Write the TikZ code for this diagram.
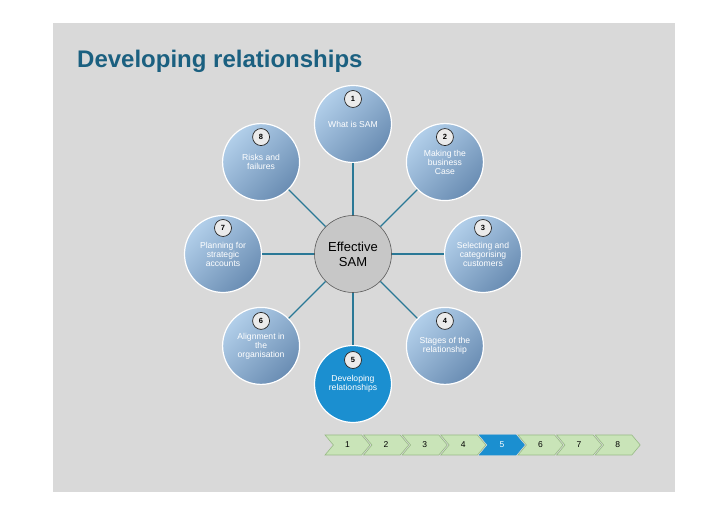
\documentclass[tikz,border=0pt]{standalone}
\usepackage{fontspec}
\setmainfont{Liberation Sans}
\usetikzlibrary{calc,positioning,shapes.symbols}

\definecolor{panelgray}{HTML}{D9D9D9}
\definecolor{titleteal}{HTML}{1B6080}
\definecolor{linkteal}{HTML}{2A7896}
\definecolor{topiclight}{HTML}{B2CFEA}
\definecolor{topicdark}{HTML}{6A8DB3}
\definecolor{activeblue}{HTML}{1B8FD0}
\definecolor{stepgreen}{HTML}{C9E4B8}
\definecolor{stepedge}{HTML}{98BA86}

\tikzset{
  bubble/.style={circle, minimum size=77pt, inner sep=0pt, draw=white, line width=1.2pt,
    text=white, align=center, font=\fontsize{8.6}{9}\selectfont},
  topic/.style={bubble, shading=axis, top color=topiclight, bottom color=topicdark, shading angle=45},
  activetopic/.style={bubble, fill=activeblue},
  badge/.style={circle, draw=black!85, fill=black!8, minimum size=17pt, inner sep=0pt,
    line width=0.7pt, font=\fontsize{7.5}{7.5}\selectfont\bfseries},
  hub/.style={circle, minimum size=77pt, inner sep=0pt, draw=black!65, fill=black!22,
    line width=0.6pt, align=center, font=\fontsize{13}{15}\selectfont},
  link/.style={draw=linkteal, line width=1.2pt},
  stepbox/.style={signal, signal to=east, signal from=west, signal pointer angle=100,
    minimum width=45pt, minimum height=20pt, inner sep=0pt, fill=stepgreen, draw=stepedge,
    line width=0.6pt, font=\fontsize{8.5}{8.5}\selectfont},
  activestep/.style={stepbox, fill=activeblue, draw=activeblue, text=white}
}

\begin{document}
\begin{tikzpicture}[x=1pt,y=1pt]
\useasboundingbox (0,0) rectangle (728,516);

\fill[white] (0,0) rectangle (728,516);

\fill[panelgray] (52.5,24) rectangle (675,493);

\node[anchor=base west, inner sep=0pt, text=titleteal, font=\fontsize{24}{24}\selectfont\bfseries] (title) at (77,448) {Developing relationships};

\node[hub] (sam) at (353,262) {Effective\\SAM};

\node[topic] (t1) at ($(sam)+(90:130)$) {What is SAM};
\node[topic] (t2) at ($(sam)+(45:130)$) {Making the\\business\\Case};
\node[topic] (t3) at ($(sam)+(0:130)$) {Selecting and\\categorising\\customers};
\node[topic] (t4) at ($(sam)+(-45:130)$) {Stages of the\\relationship};
\node[activetopic] (t5) at ($(sam)+(-90:130)$) {Developing\\relationships};
\node[topic] (t6) at ($(sam)+(-135:130)$) {Alignment in\\the\\organisation};
\node[topic] (t7) at ($(sam)+(180:130)$) {Planning for\\strategic\\accounts};
\node[topic] (t8) at ($(sam)+(135:130)$) {Risks and\\failures};

\draw[link] (sam) -- (t1);
\draw[link] (sam) -- (t2);
\draw[link] (sam) -- (t3);
\draw[link] (sam) -- (t4);
\draw[link] (sam) -- (t5);
\draw[link] (sam) -- (t6);
\draw[link] (sam) -- (t7);
\draw[link] (sam) -- (t8);

\node[badge] (b1) at ($(t1)+(0,25)$) {1};
\node[badge] (b2) at ($(t2)+(0,25)$) {2};
\node[badge] (b3) at ($(t3)+(0,26)$) {3};
\node[badge] (b4) at ($(t4)+(0,25)$) {4};
\node[badge] (b5) at ($(t5)+(0,24)$) {5};
\node[badge] (b6) at ($(t6)+(0,25)$) {6};
\node[badge] (b7) at ($(t7)+(0,26)$) {7};
\node[badge] (b8) at ($(t8)+(0,25)$) {8};

\node[stepbox] (s1) at (347.5,71) {1};
\node[stepbox] (s2) at ($(s1)+(38.6,0)$) {2};
\node[stepbox] (s3) at ($(s2)+(38.6,0)$) {3};
\node[stepbox] (s4) at ($(s3)+(38.6,0)$) {4};
\node[activestep] (s5) at ($(s4)+(38.6,0)$) {5};
\node[stepbox] (s6) at ($(s5)+(38.6,0)$) {6};
\node[stepbox] (s7) at ($(s6)+(38.6,0)$) {7};
\node[stepbox] (s8) at ($(s7)+(38.6,0)$) {8};

\end{tikzpicture}
\end{document}
